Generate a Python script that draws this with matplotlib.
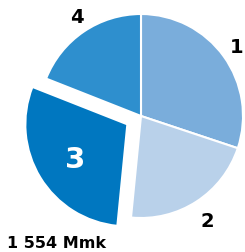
import matplotlib.pyplot as plt

labels = ['1', '2', '3', '4']
values = [1591, 1133, 1554, 1005]
colors = ['#7aaddb', '#b9d1ea', '#0077c0', '#2e8fce']
value_label = '1 554 Mmk'

W, H = 245, 253
fig = plt.figure(figsize=(W / 100, H / 100), dpi=100)
ax = fig.add_axes([0, 0, 1, 1])

# pie drawn in pixel-like data coords (y up); explode is in data units here
cx, cy, r = 141, H - 117, 102
explode = [0, 0, 16, 0]
wedges, _ = ax.pie(values, colors=colors, explode=explode, startangle=90,
                   counterclock=False, center=(cx, cy), radius=r,
                   wedgeprops=dict(edgecolor='white', linewidth=1.5))
ax.set_xlim(0, W)
ax.set_ylim(0, H)
ax.set_aspect('equal')
ax.axis('off')

font = dict(family='DejaVu Sans', weight='bold')
ax.text(237, H - 47, labels[0], fontsize=14, ha='center', va='center', **font)
ax.text(207, H - 222, labels[1], fontsize=14, ha='center', va='center', **font)
ax.text(77, H - 17, labels[3], fontsize=14, ha='center', va='center', **font)
ax.text(75, H - 160, labels[2], fontsize=21, ha='center', va='center', color='white', **font)
ax.text(7, H - 244, value_label, fontsize=11.5, ha='left', va='center', **font)

plt.savefig('out.png', dpi=100)
